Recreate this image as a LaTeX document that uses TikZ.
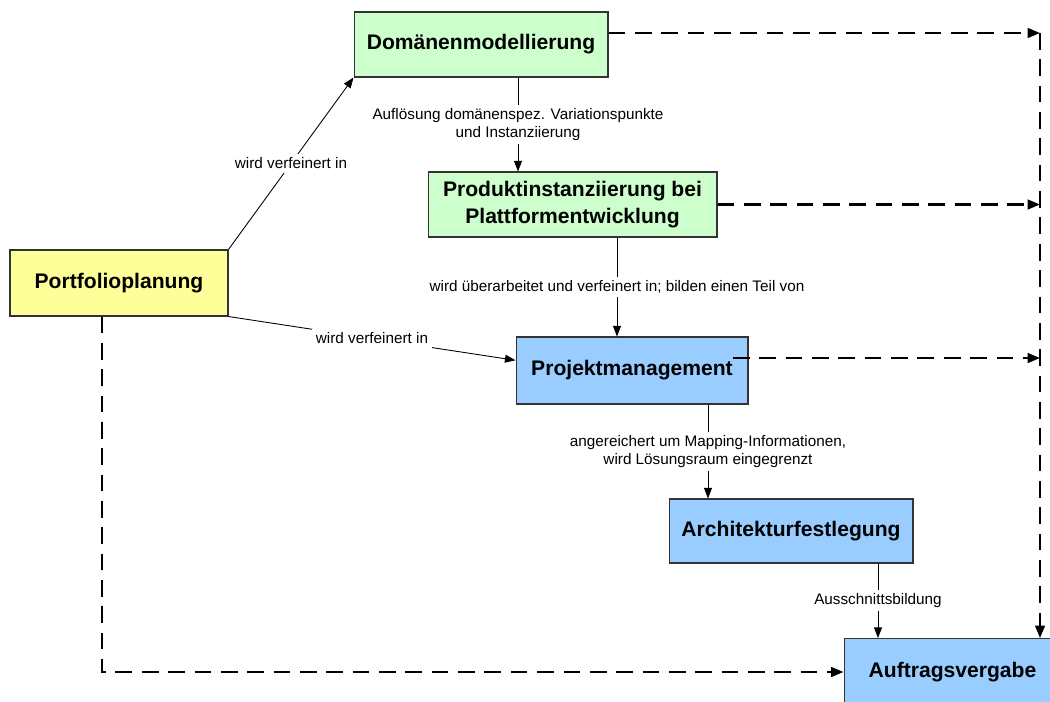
\documentclass[tikz,border=0pt]{standalone}
\usepackage{fontspec}
\setmainfont{Liberation Sans}
\usepackage{xcolor}
\usetikzlibrary{arrows.meta}

\definecolor{gruen}{RGB}{204,255,204}
\definecolor{gelb}{RGB}{255,255,153}
\definecolor{blau}{RGB}{153,204,255}

\begin{document}
\begin{tikzpicture}[x=0.02cm, y=-0.02cm,
    box/.style={draw=black!80, line width=0.6pt, align=center, inner sep=2pt,
        font=\fontsize{12}{15.5}\selectfont\bfseries},
    lbl/.style={fill=white, align=center, inner sep=2pt,
        font=\fontsize{8.7}{10}\selectfont},
    arr/.style={line width=0.5pt, -{Triangle[length=6pt,width=4.5pt]}},
    dasharr/.style={line width=1.2pt, dash pattern=on 9.5pt off 5.5pt,
        -{Triangle[length=7pt,width=5.5pt]}}]

\useasboundingbox (0,0) rectangle (1050,702);

% Boxes
\node[box, fill=gruen, minimum width=5.08cm, minimum height=1.3cm] (domain) at (481,44.5) {Domänenmodellierung};
\node[box, fill=gruen, minimum width=5.78cm, minimum height=1.3cm] (produkt) at (572.5,204.5) {Produktinstanziierung bei\\Plattformentwicklung};
\node[box, fill=gelb, minimum width=4.36cm, minimum height=1.32cm] (portfolio) at (119,283) {Portfolioplanung};
\node[box, fill=blau, minimum width=4.64cm, minimum height=1.34cm] (projekt) at (632,370.5) {Projektmanagement};
\node[box, fill=blau, minimum width=4.88cm, minimum height=1.28cm] (arch) at (791,531) {Architekturfestlegung};
\node[box, fill=blau, minimum width=4.34cm, minimum height=1.34cm] (auftrag) at (952.5,672) {Auftragsvergabe};

% Refinement arrows
\draw[arr] (portfolio.north east) -- node[lbl] {wird verfeinert in} (domain.south west);
\draw[arr] (portfolio.south east) -- node[lbl] {wird verfeinert in} (projekt.175);
\draw[arr] ([xshift=0.74cm]domain.south) -- node[lbl] {Auflösung domänenspez. Variationspunkte\\und Instanziierung} ([xshift=0.74cm]domain.south |- produkt.north);
\draw[arr] ([xshift=0.89cm]produkt.south) -- node[lbl] {wird überarbeitet und verfeinert in; bilden einen Teil von} ([xshift=0.89cm]produkt.south |- projekt.north);
\draw[arr] ([xshift=1.52cm]projekt.south) -- node[lbl] {angereichert um Mapping-Informationen,\\wird Lösungsraum eingegrenzt} ([xshift=1.52cm]projekt.south |- arch.north);
\draw[arr] ([xshift=1.74cm]arch.south) -- node[lbl] {Ausschnittsbildung} ([xshift=1.74cm]arch.south |- auftrag.north);

% Dashed lines to Auftragsvergabe
\coordinate (rail) at (1040,33);
\draw[dasharr] ([yshift=0.23cm]domain.east) -- ([yshift=0.23cm]domain.east -| rail);
\draw[dasharr] (produkt.east) -- (produkt.east -| rail);
\draw[dasharr] ([xshift=2.02cm,yshift=0.25cm]projekt.center) -- ([yshift=0.25cm]projekt.center -| rail);
\draw[dasharr] (rail) -- (rail |- auftrag.north);
\draw[dasharr] ([xshift=-0.34cm]portfolio.south) |- (auftrag.west);

\end{tikzpicture}
\end{document}
